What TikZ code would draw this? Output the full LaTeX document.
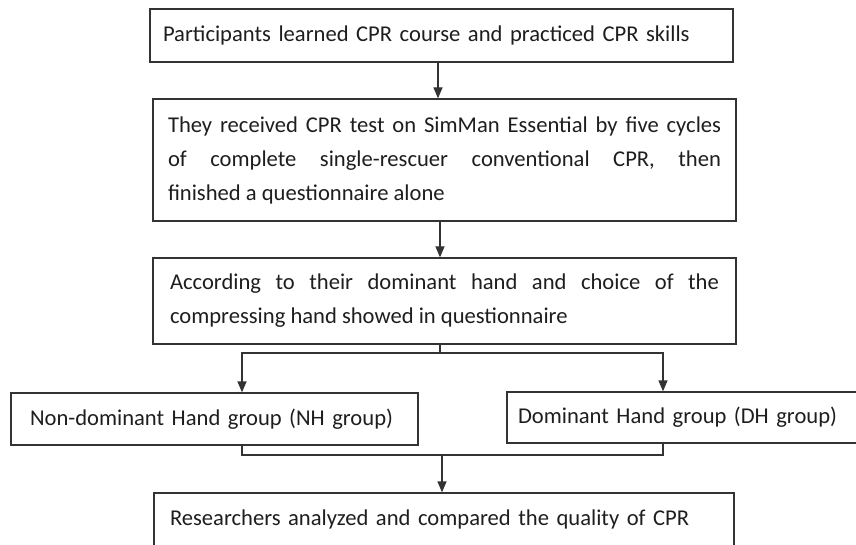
\documentclass[tikz,border=0pt]{standalone}
\usepackage{fontspec}
\setmainfont{Carlito}
\usetikzlibrary{arrows.meta}
\definecolor{FlowLine}{HTML}{333333}
\definecolor{FlowText}{HTML}{1E1E1E}

\begin{document}
\begin{tikzpicture}[x=1pt,y=-1pt,
    stagebox/.style={draw=FlowLine, line width=1.3pt, inner sep=0pt, text=FlowText,
      font=\fontsize{22.6}{34}\selectfont},
    link/.style={draw=FlowLine, line width=1.3pt},
    flow/.style={link, -{Triangle[length=11pt,width=9pt]}}]
  \useasboundingbox (0,0) rectangle (856,545);
  \node[stagebox, minimum width=583, minimum height=53, text width=557, align=left] (learn) at (441.5,35.5)
    {Participants learned CPR course and practiced CPR skills};
  \node[stagebox, minimum width=583, minimum height=122, text width=553, align=justify] (test) at (444.5,160)
    {They received CPR test on SimMan Essential by five cycles\linebreak of complete single-rescuer conventional CPR, then\linebreak finished a questionnaire alone};
  \node[stagebox, minimum width=583, minimum height=86, text width=549, align=justify] (assign) at (444.5,301)
    {According to their dominant hand and choice of the\linebreak compressing hand showed in questionnaire};
  \node[stagebox, minimum width=407, minimum height=52, text width=369, align=left] (nh) at (214.5,419)
    {Non-dominant Hand group (NH group)};
  \node[stagebox, minimum width=350, minimum height=51, text width=328, align=left] (dh) at (682,417.5)
    {Dominant Hand group (DH group)};
  \node[stagebox, minimum width=580, minimum height=53, text width=548, align=left] (res) at (444,519.5)
    {Researchers analyzed and compared the quality of CPR};
  \coordinate (split) at (440,353);
  \coordinate (merge) at (442,455);
  \draw[flow] ([xshift=-3.5]learn.south) -- ([xshift=-3.5]learn.south |- test.north);
  \draw[flow] ([xshift=-4.5]test.south) -- ([xshift=-4.5]test.south |- assign.north);
  \draw[link] (assign.south -| split) -- (split);
  \draw[flow] (split) -| ([xshift=-19]dh.north);
  \draw[flow] (split) -| ([xshift=27.5]nh.north);
  \draw[link] ([xshift=27.5]nh.south) |- (merge) -| ([xshift=-19]dh.south);
  \draw[flow] (merge) -- (merge |- res.north);
\end{tikzpicture}
\end{document}
